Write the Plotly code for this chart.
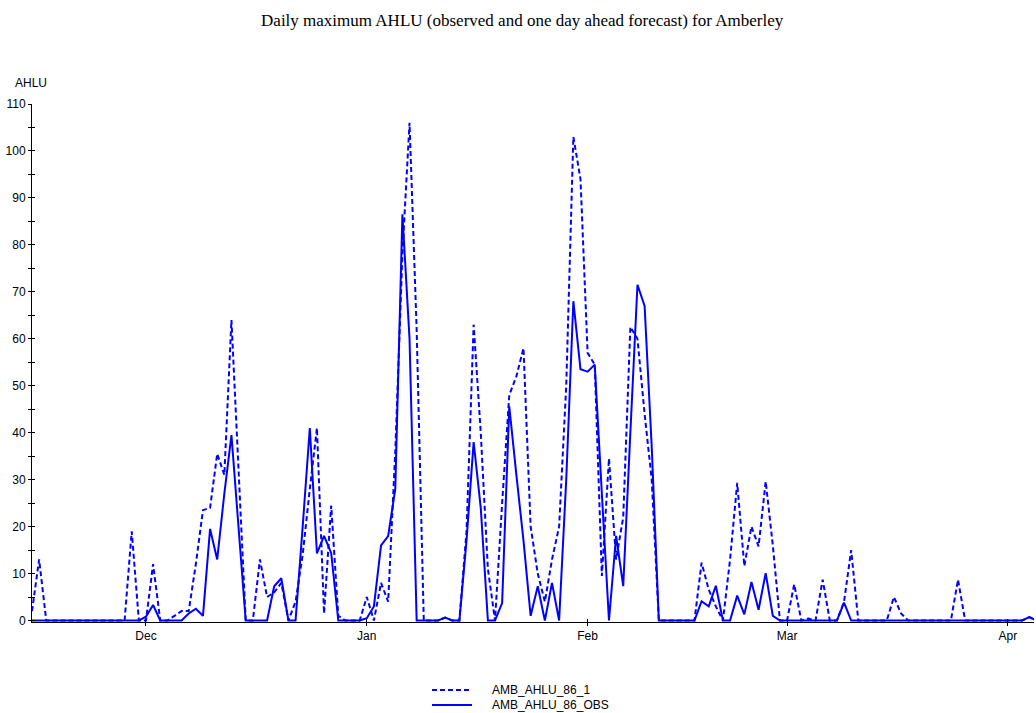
import pandas as pd
import plotly.graph_objects as go

# Daily dates, 15 Nov to 5 Apr
dates = pd.date_range("2002-11-15", "2003-04-05", freq="D")

# One day ahead forecast of daily maximum AHLU
forecast_nov = [2, 13, 0, 0, 0, 0, 0, 0, 0, 0, 0, 0, 0, 0, 19, 0]
forecast_dec = [0, 12, 0, 0, 1, 2, 2, 12, 23.5, 24, 35.5, 31, 64, 33, 0, 0,
                13, 5, 6, 8, 0, 4, 14, 28, 41, 1.5, 24.5, 1, 0, 0, 0]
forecast_jan = [5, 0, 8, 4, 36, 78, 106, 62, 0, 0, 0, 0.6, 0, 0, 19, 63,
                40, 11, 0, 25, 48, 52, 58, 20, 10, 4, 13, 20, 50, 103, 94]
forecast_feb = [57, 54.5, 9.5, 34.5, 13, 22, 62.5, 60, 44, 30, 0, 0, 0, 0,
                0, 0, 12.3, 6.6, 3, 0, 13, 29.3, 11.6, 20, 15.8, 29.6, 16, 0]
forecast_mar = [0, 7.7, 0, 0.4, 0, 8.7, 0, 0, 4, 15, 0, 0, 0, 0, 0, 5,
                1.5, 0, 0, 0, 0, 0, 0, 0, 8.7, 0, 0, 0, 0, 0, 0]
forecast_apr = [0, 0, 0, 0.7, 0]

# Observed daily maximum AHLU
observed_nov = [0] * 16
observed_dec = [0.8, 3.3, 0, 0, 0, 0, 1.5, 2.5, 1, 19.5, 13, 27, 39.5, 20, 0, 0,
                0, 0, 7.3, 9, 0, 0, 20, 41, 14.3, 18, 14.4, 0, 0, 0, 0]
observed_jan = [0.5, 3, 16, 18, 28, 86.5, 60, 0, 0, 0, 0, 0.6, 0, 0, 17, 38,
                24, 0, 0, 3.7, 45.6, 31, 17, 1, 7.3, 0, 8, 0, 30, 68, 53.5]
observed_feb = [53, 54.5, 27, 0, 18, 7.3, 40, 71.5, 67, 37, 0, 0, 0, 0,
                0, 0, 4.1, 3, 7.4, 0, 0, 5.3, 1.3, 8.2, 2.3, 10.1, 1, 0]
observed_mar = [0, 0, 0, 0, 0, 0, 0, 0, 3.8, 0, 0, 0, 0, 0, 0, 0,
                0, 0, 0, 0, 0, 0, 0, 0, 0, 0, 0, 0, 0, 0, 0]
observed_apr = [0, 0, 0, 0.7, 0]

forecast = forecast_nov + forecast_dec + forecast_jan + forecast_feb + forecast_mar + forecast_apr
observed = observed_nov + observed_dec + observed_jan + observed_feb + observed_mar + observed_apr

series_names = ["AMB_AHLU_86_1", "AMB_AHLU_86_OBS"]
month_ticks = ["2002-12-01", "2003-01-01", "2003-02-01", "2003-03-01", "2003-04-01"]
month_labels = ["Dec", "Jan", "Feb", "Mar", "Apr"]
y_major = list(range(0, 111, 10))
y_minor = list(range(5, 110, 10))

x_range = ["2002-11-15 00:00", "2003-04-04 16:00"]
y_range = [-0.32, 110]

BLUE = "#0000ff"
SANS = "Liberation Sans, Arial, sans-serif"
SERIF = "Liberation Serif, Times New Roman, serif"
DASH = "5px,3px"

fig = go.Figure()
fig.add_trace(go.Scatter(
    x=dates, y=forecast, mode="lines", name=series_names[0],
    line=dict(color=BLUE, width=2, dash=DASH), showlegend=False,
))
fig.add_trace(go.Scatter(
    x=dates, y=observed, mode="lines", name=series_names[1],
    line=dict(color=BLUE, width=2), showlegend=False,
))
# empty trace on the overlay axes that carry the inner half of each tick
fig.add_trace(go.Scatter(x=[], y=[], xaxis="x2", yaxis="y2",
                         showlegend=False, hoverinfo="skip"))

axis_common = dict(showgrid=False, zeroline=False, tickcolor="black", tickwidth=1)

# legend key drawn below the plot, one row per series
legend_rows = [(-0.1313, DASH), (-0.1602, "solid")]
legend_shapes = [
    dict(type="line", xref="paper", yref="paper", x0=0.3992, x1=0.4391,
         y0=ry, y1=ry, line=dict(color=BLUE, width=2, dash=rd))
    for ry, rd in legend_rows
]
legend_labels = [
    dict(text=name, xref="paper", yref="paper", x=0.4571, y=ry,
         xanchor="left", yanchor="middle", showarrow=False,
         font=dict(family=SANS, size=12, color="black"))
    for name, (ry, _) in zip(series_names, legend_rows)
]

fig.update_layout(
    width=1036, height=713,
    margin=dict(l=32, r=2, t=104, b=91, pad=0),
    paper_bgcolor="white", plot_bgcolor="white",
    font=dict(family=SANS, size=12, color="black"),
    showlegend=False,
    title=dict(
        text="Daily maximum AHLU (observed and one day ahead forecast) for Amberley",
        font=dict(family=SERIF, size=17, color="black"),
        x=0.504, xref="container", xanchor="center",
        y=1 - 20 / 713, yref="container", yanchor="middle",
    ),
    xaxis=dict(
        type="date", range=x_range,
        tickmode="array", tickvals=month_ticks, ticktext=month_labels,
        ticks="outside", ticklen=3,
        showline=True, linecolor="black", linewidth=1,
        tickfont=dict(family=SANS, size=12, color="black"),
        **axis_common,
    ),
    xaxis2=dict(
        type="date", range=x_range, overlaying="x", anchor="y2",
        tickmode="array", tickvals=month_ticks,
        ticks="inside", ticklen=3, showticklabels=False, showline=False,
        **axis_common,
    ),
    yaxis=dict(
        range=y_range, tickmode="array", tickvals=y_major,
        ticks="outside", ticklen=3,
        minor=dict(tickmode="array", tickvals=y_minor, ticks="outside",
                   ticklen=3, tickcolor="black", showgrid=False),
        showline=True, linecolor="black", linewidth=1,
        tickfont=dict(family=SANS, size=12, color="black"),
        **axis_common,
    ),
    yaxis2=dict(
        range=y_range, overlaying="y", anchor="x2",
        tickmode="array", tickvals=y_major,
        ticks="inside", ticklen=3,
        minor=dict(tickmode="array", tickvals=y_minor, ticks="inside",
                   ticklen=3, tickcolor="black", showgrid=False),
        showticklabels=False, showline=False,
        **axis_common,
    ),
    shapes=legend_shapes,
    annotations=[dict(
        text="AHLU", xref="paper", yref="paper", x=-0.001, y=1.0405,
        xanchor="center", yanchor="middle", showarrow=False,
        font=dict(family=SANS, size=12, color="black"),
    )] + legend_labels,
)

fig.write_html("out.html")
